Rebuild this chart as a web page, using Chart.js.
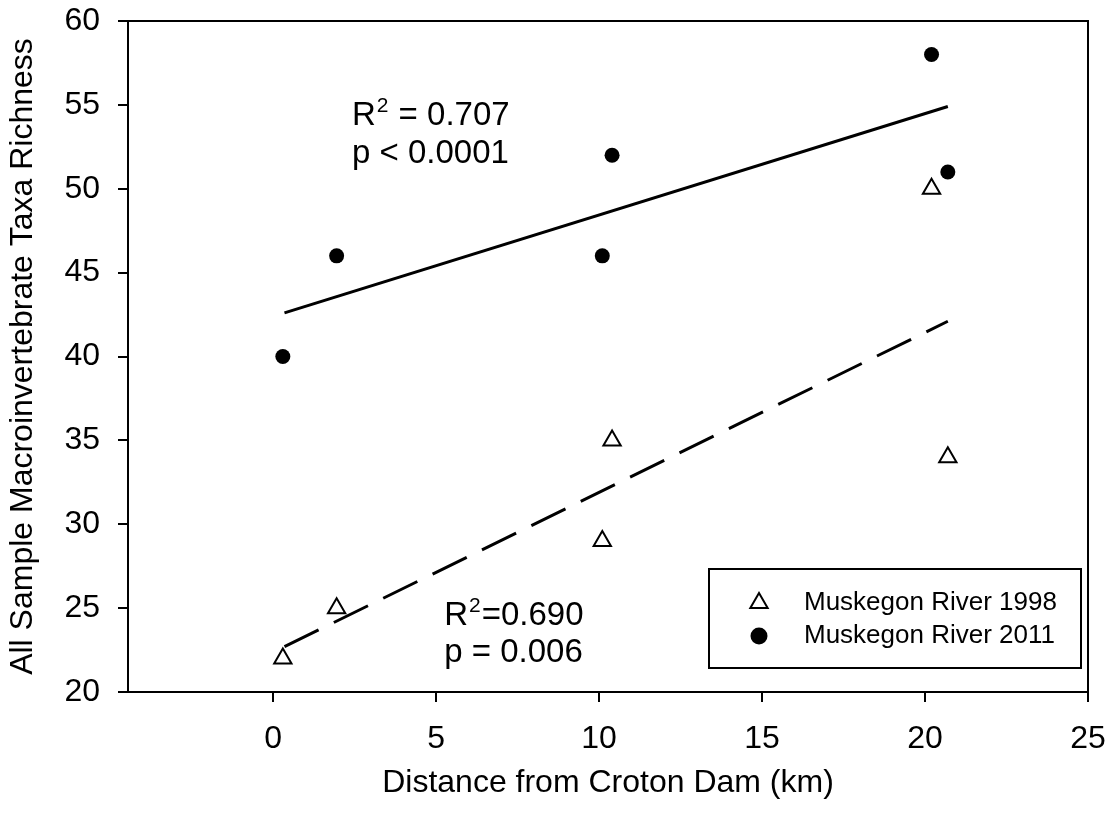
<!DOCTYPE html>
<html>
<head>
<meta charset="utf-8">
<script src="https://cdn.jsdelivr.net/npm/chart.js@4.4.0/dist/chart.umd.min.js"></script>
<style>
  html, body { margin: 0; padding: 0; background: #fff; }
</style>
</head>
<body>
<canvas id="myChart" width="1110" height="814"></canvas>
<script>
const distance = [0.3, 1.95, 10.1, 10.4, 20.2, 20.7];
const richness1998 = [22, 25, 29, 35, 50, 34];
const richness2011 = [40, 46, 46, 52, 58, 51];

// regression line end points
const fitX = [0.35, 20.7];
const fit1998 = [22.7, 42.1];
const fit2011 = [42.6, 54.9];

const xTicks = [0, 5, 10, 15, 20, 25];
const yTicks = [20, 25, 30, 35, 40, 45, 50, 55, 60];

const FONT = "'Liberation Sans', Arial, sans-serif";

const toPoints = (xs, ys) => xs.map((x, i) => ({ x: x, y: ys[i] }));

// box round the plot
const framePlugin = {
  id: 'frame',
  afterDraw(chart) {
    const { ctx, chartArea: a } = chart;
    ctx.save();
    ctx.strokeStyle = '#000';
    ctx.lineWidth = 2;
    ctx.strokeRect(a.left, a.top, a.right - a.left, a.bottom - a.top);
    ctx.restore();
  }
};

// R2 / p texts
function drawNote(ctx, x, y, rest, pText, lineGap) {
  ctx.font = '33px ' + FONT;
  ctx.fillText('R', x, y);
  const rw = ctx.measureText('R').width;
  ctx.font = '21px ' + FONT;
  ctx.fillText('2', x + rw + 1, y - 13);
  const sw = ctx.measureText('2').width;
  ctx.font = '33px ' + FONT;
  ctx.fillText(rest, x + rw + sw + 2, y);
  ctx.fillText(pText, x, y + lineGap);
}

const notesPlugin = {
  id: 'notes',
  afterDatasetsDraw(chart) {
    const { ctx, scales: { x, y } } = chart;
    ctx.save();
    ctx.fillStyle = '#000';
    ctx.textBaseline = 'alphabetic';
    ctx.textAlign = 'left';
    drawNote(ctx, x.getPixelForValue(2.42), y.getPixelForValue(53.8), ' = 0.707', 'p < 0.0001',
      y.getPixelForValue(51.55) - y.getPixelForValue(53.8));
    drawNote(ctx, x.getPixelForValue(5.25), y.getPixelForValue(24.0), '=0.690', 'p = 0.006',
      y.getPixelForValue(21.8) - y.getPixelForValue(24.0));
    ctx.restore();
  }
};

// legend box inside the plot, bottom right
const legendBoxPlugin = {
  id: 'legendBox',
  afterDraw(chart) {
    const { ctx, chartArea: a } = chart;
    const w = 372, h = 99;
    const left = a.right - 7 - w;
    const top = a.bottom - 24 - h;
    ctx.save();
    ctx.strokeStyle = '#000';
    ctx.lineWidth = 2;
    ctx.strokeRect(left, top, w, h);
    ctx.font = '26px ' + FONT;
    ctx.textBaseline = 'middle';
    ctx.textAlign = 'left';
    [0, 1].forEach(i => {
      const ds = chart.data.datasets[i];
      const cy = top + 34 + i * 33;
      ctx.fillStyle = ds.backgroundColor;
      ctx.strokeStyle = ds.borderColor;
      ctx.lineWidth = ds.borderWidth;
      Chart.helpers.drawPoint(ctx, {
        pointStyle: ds.pointStyle,
        radius: i === 0 ? 10 : 8.5,
        rotation: 0,
        borderWidth: ds.borderWidth
      }, left + 50, cy);
      ctx.fillStyle = '#000';
      ctx.fillText(ds.label, left + 95, cy);
    });
    ctx.restore();
  }
};

const ctx = document.getElementById('myChart').getContext('2d');
const chart = new Chart(ctx, {
  type: 'scatter',
  data: {
    datasets: [
      {
        label: 'Muskegon River 1998',
        data: toPoints(distance, richness1998),
        pointStyle: 'triangle',
        pointRadius: 10,
        backgroundColor: '#fff',
        borderColor: '#000',
        borderWidth: 2,
        order: 1
      },
      {
        label: 'Muskegon River 2011',
        data: toPoints(distance, richness2011),
        pointStyle: 'circle',
        pointRadius: 7.5,
        backgroundColor: '#000',
        borderColor: '#000',
        borderWidth: 0,
        order: 1
      },
      {
        label: 'fit 2011',
        data: toPoints(fitX, fit2011),
        showLine: true,
        pointRadius: 0,
        borderColor: '#000',
        borderWidth: 3,
        order: 2
      },
      {
        label: 'fit 1998',
        data: toPoints(fitX, fit1998),
        showLine: true,
        pointRadius: 0,
        borderColor: '#000',
        borderWidth: 3,
        borderDash: [38, 17],
        order: 2
      }
    ]
  },
  options: {
    responsive: false,
    animation: false,
    events: [],
    layout: { padding: { top: 21, right: 22, left: 0, bottom: 0 } },
    plugins: {
      legend: { display: false },
      tooltip: { enabled: false }
    },
    scales: {
      x: {
        type: 'linear',
        min: -4.45,
        max: 25,
        afterBuildTicks: s => { s.ticks = xTicks.map(v => ({ value: v })); },
        afterFit: s => { s.height = 122; s.paddingLeft = 0; s.paddingRight = 0; },
        border: { display: false },
        grid: { drawOnChartArea: false, drawTicks: true, tickLength: 10, color: '#000', lineWidth: 2 },
        ticks: { color: '#000', padding: 18, font: { family: FONT, size: 32 } },
        title: {
          display: true,
          text: 'Distance from Croton Dam (km)',
          color: '#000',
          padding: { top: 0, bottom: 12 },
          font: { family: FONT, size: 32 }
        }
      },
      y: {
        type: 'linear',
        min: 20,
        max: 60,
        afterBuildTicks: s => { s.ticks = yTicks.map(v => ({ value: v })); },
        afterFit: s => { s.width = 128; s.paddingTop = 0; s.paddingBottom = 0; },
        border: { display: false },
        grid: { drawOnChartArea: false, drawTicks: true, tickLength: 10, color: '#000', lineWidth: 2 },
        ticks: { color: '#000', padding: 18, font: { family: FONT, size: 32 } },
        title: {
          display: true,
          text: 'All Sample Macroinvertebrate Taxa Richness',
          color: '#000',
          padding: { top: 4, bottom: 0 },
          font: { family: FONT, size: 32 }
        }
      }
    }
  },
  plugins: [framePlugin, notesPlugin, legendBoxPlugin]
});
</script>
</body>
</html>
